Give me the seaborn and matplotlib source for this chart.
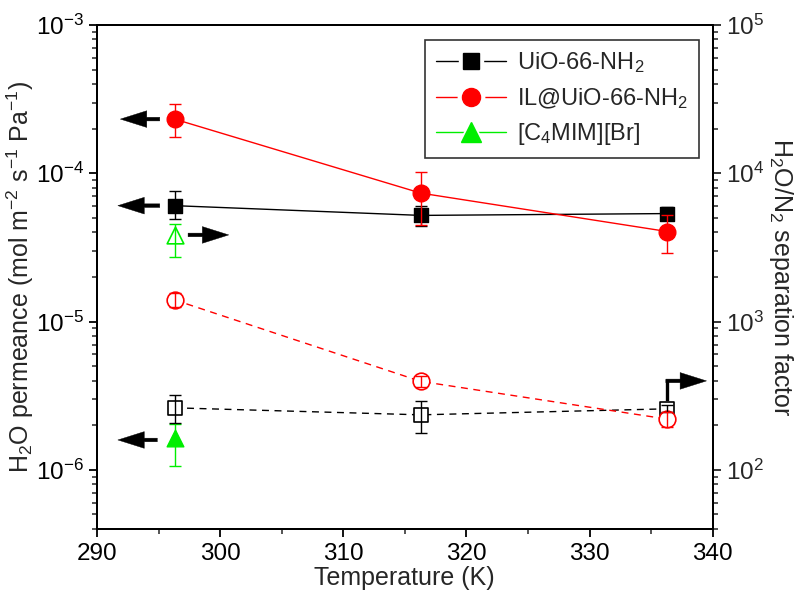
import matplotlib
matplotlib.use("Agg")
import matplotlib.pyplot as plt
import seaborn as sns
import numpy as np
import pandas as pd
from matplotlib.lines import Line2D
from matplotlib.legend_handler import HandlerTuple
from matplotlib.ticker import LogLocator, NullFormatter, MultipleLocator

# ---------------- data ----------------
temps = [296.3, 316.3, 336.3]

# H2O permeance (left axis), filled markers
perm_uio = [6.05e-5, 5.2e-5, 5.35e-5]
perm_uio_lo = [1.1e-5, 0.8e-5, 0.5e-5]
perm_uio_hi = [1.5e-5, 0.8e-5, 0.6e-5]

perm_il = [2.32e-4, 7.35e-5, 4.05e-5]
perm_il_lo = [0.55e-4, 2.9e-5, 1.13e-5]
perm_il_hi = [0.6e-4, 2.9e-5, 1.2e-5]

perm_ionic_T = [296.3]
perm_ionic = [1.64e-6]
perm_ionic_lo = [0.58e-6]
perm_ionic_hi = [0.40e-6]

# H2O/N2 separation factor (right axis), open markers
sep_uio = [262, 235, 258]
sep_uio_lo = [55, 57, 12]
sep_uio_hi = [58, 55, 14]

sep_il = [1400, 395, 220]
sep_il_lo = [150, 35, 25]
sep_il_hi = [150, 35, 25]

sep_ionic_T = [296.3]
sep_ionic = [3840]
sep_ionic_lo = [1100]
sep_ionic_hi = [700]

labels = ["UiO-66-NH$_2$", "IL@UiO-66-NH$_2$", "[C$_4$MIM][Br]"]
colors = ["#000000", "#FF0000", "#00EE00"]
markers = ["s", "o", "^"]

# ---------------- style ----------------
sns.set_style("ticks")
plt.rcParams["font.family"] = ["Liberation Sans", "DejaVu Sans"]
plt.rcParams["mathtext.fontset"] = "custom"
plt.rcParams["mathtext.rm"] = "Liberation Sans"
plt.rcParams["mathtext.it"] = "Liberation Sans:italic"
plt.rcParams["mathtext.default"] = "regular"
plt.rcParams["axes.unicode_minus"] = False

fig = plt.figure(figsize=(8.08, 6.10), dpi=100)
ax = fig.add_axes([0.120, 0.133, 0.762, 0.826])
ax2 = ax.twinx()

ms_sq = 10.5
ms_ci = 12
ms_tr = 12


def draw(axis, x, y, lo, hi, color, marker, ms, filled, ls):
    df = pd.DataFrame({"T": x, "v": y})
    axis.errorbar(x, y, yerr=[lo, hi], fmt="none", ecolor=color, elinewidth=1.0,
                  capsize=4.5, capthick=1.0, zorder=5)
    if len(x) > 1:
        sns.lineplot(data=df, x="T", y="v", ax=axis, color=color, lw=1.0,
                     linestyle=ls, zorder=3, legend=False)
    if filled:
        sns.scatterplot(data=df, x="T", y="v", ax=axis, color=color, marker=marker,
                        s=ms ** 2, edgecolor=color, linewidth=1.0, zorder=4, legend=False)
    else:
        sns.scatterplot(data=df, x="T", y="v", ax=axis, color="white", marker=marker,
                        s=ms ** 2, edgecolor=color, linewidth=1.2, zorder=4, legend=False)


draw(ax, temps, perm_uio, perm_uio_lo, perm_uio_hi, colors[0], "s", ms_sq, True, "-")
draw(ax, temps, perm_il, perm_il_lo, perm_il_hi, colors[1], "o", ms_ci, True, "-")
draw(ax, perm_ionic_T, perm_ionic, perm_ionic_lo, perm_ionic_hi, colors[2], "^", ms_tr, True, "-")

draw(ax2, temps, sep_uio, sep_uio_lo, sep_uio_hi, colors[0], "s", ms_sq, False, (0, (5, 4)))
draw(ax2, temps, sep_il, sep_il_lo, sep_il_hi, colors[1], "o", ms_ci, False, (0, (5, 4)))
draw(ax2, sep_ionic_T, sep_ionic, sep_ionic_lo, sep_ionic_hi, colors[2], "^", ms_tr, False, "-")

# ---------------- axes ----------------
ax.set_xlim(290, 340)
ax.set_yscale("log")
ax.set_ylim(4e-7, 1e-3)
ax2.set_yscale("log")
ax2.set_ylim(40, 1e5)

ax.xaxis.set_major_locator(MultipleLocator(10))
ax.xaxis.set_minor_locator(MultipleLocator(5))
for a in (ax, ax2):
    a.yaxis.set_major_locator(LogLocator(base=10, numticks=10))
    a.yaxis.set_minor_locator(LogLocator(base=10, subs=np.arange(2, 10), numticks=20))
    a.yaxis.set_minor_formatter(NullFormatter())
    for s in a.spines.values():
        s.set_linewidth(1.4)
        s.set_color("black")

ax.tick_params(axis="both", which="major", direction="out", length=6, width=1.3,
               labelsize=17.5, colors="black", top=False)
ax.tick_params(axis="both", which="minor", direction="out", length=3.5, width=1.1, top=False)
ax.tick_params(axis="x", which="major", pad=4)
ax2.tick_params(axis="y", which="major", direction="out", length=6, width=1.3, labelsize=17.5)
ax2.tick_params(axis="y", which="minor", direction="out", length=3.5, width=1.1)

ax.set_xlabel("Temperature (K)", fontsize=18, labelpad=1)
ax.set_ylabel("H$_2$O permeance (mol m$^{-2}$ s$^{-1}$ Pa$^{-1}$)", fontsize=18, labelpad=0)
ax2.set_ylabel("H$_2$O/N$_2$ separation factor", fontsize=18, rotation=270, labelpad=22)

# ---------------- arrows ----------------
aprops = dict(arrowstyle="simple,head_length=0.95,head_width=0.6,tail_width=0.13",
              facecolor="black", edgecolor="black", lw=0.3, mutation_scale=20,
              shrinkA=0, shrinkB=0)
ax.annotate("", xy=(291.9, perm_il[0]), xytext=(295.1, perm_il[0]), arrowprops=aprops, zorder=6)
ax.annotate("", xy=(291.7, perm_uio[0]), xytext=(295.1, perm_uio[0]), arrowprops=aprops, zorder=6)
ax.annotate("", xy=(291.7, perm_ionic[0] * 0.97), xytext=(294.9, perm_ionic[0] * 0.97),
            arrowprops=aprops, zorder=6)
ax2.annotate("", xy=(300.7, sep_ionic[0]), xytext=(297.4, sep_ionic[0]), arrowprops=aprops, zorder=6)
# stepped arrow near right axis
ax2.plot([336.3, 336.3], [300, 398], color="black", lw=2.4, solid_capstyle="projecting", zorder=6)
ax2.annotate("", xy=(339.5, 398), xytext=(336.2, 398), arrowprops=aprops, zorder=6)

# ---------------- legend ----------------
handles = []
for c, m, s in zip(colors, markers, [11, 13, 14]):
    ln = Line2D([0], [0], color=c, lw=1.0)
    gap = Line2D([0], [0], linestyle="none", marker=m, markersize=s + 6,
                 markerfacecolor="white", markeredgecolor="white")
    mk = Line2D([0], [0], linestyle="none", marker=m, markersize=s,
                markerfacecolor=c, markeredgecolor=c)
    handles.append((ln, gap, mk))
leg = ax2.legend(handles, labels, loc="upper right", bbox_to_anchor=(0.985, 0.98),
                 fontsize=17, frameon=True, fancybox=False, edgecolor="black",
                 handlelength=3.0, handletextpad=0.45, borderpad=0.45, labelspacing=0.45,
                 borderaxespad=0.2, handler_map={tuple: HandlerTuple(ndivide=1)})
leg.get_frame().set_linewidth(1.2)
leg.set_zorder(10)

fig.savefig("out.png", dpi=100)
